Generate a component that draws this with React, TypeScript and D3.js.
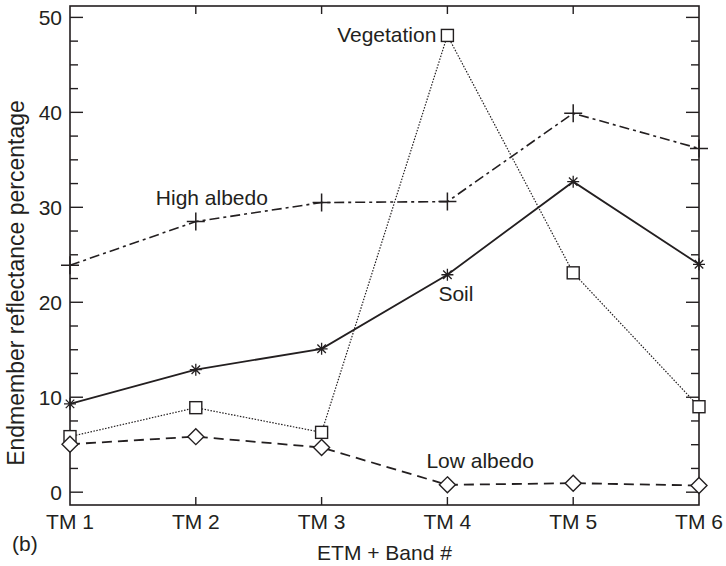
import * as d3 from "d3";

const bands = ["TM 1", "TM 2", "TM 3", "TM 4", "TM 5", "TM 6"];
const highAlbedo = [23.9, 28.5, 30.5, 30.6, 39.9, 36.2];
const soil = [9.3, 12.9, 15.1, 22.9, 32.7, 24.0];
const vegetation = [5.85, 8.9, 6.3, 48.1, 23.1, 9.0];
const lowAlbedo = [5.05, 5.85, 4.7, 0.77, 0.95, 0.7];
const yTicks = d3.range(0, 50.01, 2.5);

const W = 726;
const H = 566;
const left = 70;
const right = 699;
const top = 6;
const bottom = 505;
const ink = "#231f20";
const font = "'Liberation Sans', Arial, sans-serif";

const x = d3.scalePoint<string>().domain(bands).range([left, right]);
const y = d3.scaleLinear().domain([-1.35, 51.2]).range([bottom, top]);

const line = d3
  .line<number>()
  .x((_, i) => x(bands[i])!)
  .y((d) => y(d));

const Plus = ({ cx, cy }: { cx: number; cy: number }) => (
  <path d={`M${cx - 9},${cy}H${cx + 9}M${cx},${cy - 9}V${cy + 9}`} stroke={ink} strokeWidth={1.5} />
);

const Star = ({ cx, cy }: { cx: number; cy: number }) => {
  const r = 6;
  const d = r * Math.SQRT1_2;
  return (
    <path
      d={`M${cx - r},${cy}H${cx + r}M${cx},${cy - r}V${cy + r}M${cx - d},${cy - d}L${cx + d},${cy + d}M${cx - d},${cy + d}L${cx + d},${cy - d}`}
      stroke={ink}
      strokeWidth={1.3}
    />
  );
};

const Square = ({ cx, cy }: { cx: number; cy: number }) => (
  <rect x={cx - 6} y={cy - 6} width={12} height={12} fill="white" stroke={ink} strokeWidth={1.4} />
);

const Diamond = ({ cx, cy }: { cx: number; cy: number }) => (
  <path d={`M${cx},${cy - 8}L${cx + 8},${cy}L${cx},${cy + 8}L${cx - 8},${cy}Z`} fill="white" stroke={ink} strokeWidth={1.4} />
);

export default function App() {
  const px = (i: number) => x(bands[i])!;
  return (
    <svg
      width={W}
      height={H}
      style={{ position: "absolute", left: 0, top: 0, background: "white" }}
      fontFamily={font}
    >
      {/* frame */}
      <rect x={left} y={top} width={right - left} height={bottom - top} fill="none" stroke={ink} strokeWidth={1.6} />

      {/* y ticks, left and right */}
      {yTicks.map((t) => {
        const major = t % 10 === 0;
        const len = major ? 13 : 8;
        return (
          <g key={t}>
            <line x1={left} x2={left + len} y1={y(t)} y2={y(t)} stroke={ink} strokeWidth={1.4} />
            <line x1={right} x2={right - len} y1={y(t)} y2={y(t)} stroke={ink} strokeWidth={1.4} />
            {major && (
              <text x={62} y={y(t)} dy="0.36em" textAnchor="end" fontSize={21} fill={ink}>
                {t}
              </text>
            )}
          </g>
        );
      })}

      {/* x ticks, bottom and top */}
      {bands.map((b, i) => (
        <g key={b}>
          {i > 0 && i < bands.length - 1 && (
            <>
              <line x1={x(b)} x2={x(b)} y1={bottom} y2={bottom - 8} stroke={ink} strokeWidth={1.4} />
              <line x1={x(b)} x2={x(b)} y1={top} y2={top + 8} stroke={ink} strokeWidth={1.4} />
            </>
          )}
          <text x={x(b)} y={529} textAnchor="middle" fontSize={21} fill={ink}>
            {b}
          </text>
        </g>
      ))}

      {/* series */}
      <path d={line(vegetation)!} fill="none" stroke={ink} strokeWidth={1.2} strokeDasharray="1.5 1.5" />
      <path d={line(soil)!} fill="none" stroke={ink} strokeWidth={1.8} />
      <path d={line(highAlbedo)!} fill="none" stroke={ink} strokeWidth={1.6} strokeDasharray="10 4 3 4" />
      <path d={line(lowAlbedo)!} fill="none" stroke={ink} strokeWidth={1.8} strokeDasharray="10 6" />

      {vegetation.map((v, i) => <Square key={`v${i}`} cx={px(i)} cy={y(v)} />)}
      {soil.map((v, i) => <Star key={`s${i}`} cx={px(i)} cy={y(v)} />)}
      {highAlbedo.map((v, i) => <Plus key={`h${i}`} cx={px(i)} cy={y(v)} />)}
      {lowAlbedo.map((v, i) => <Diamond key={`l${i}`} cx={px(i)} cy={y(v)} />)}

      {/* annotations */}
      <text x={px(3) - 11} y={y(vegetation[3]) + 7} textAnchor="end" fontSize={21} fill={ink}>
        Vegetation
      </text>
      <text x={px(1) - 40} y={y(highAlbedo[1]) - 17} fontSize={21} fill={ink}>
        High albedo
      </text>
      <text x={px(3) - 9} y={y(soil[3]) + 26} fontSize={21} fill={ink}>
        Soil
      </text>
      <text x={px(3) - 21} y={y(lowAlbedo[3]) - 17} fontSize={21} fill={ink}>
        Low albedo
      </text>

      {/* axis titles */}
      <text x={(left + right) / 2} y={560} textAnchor="middle" fontSize={21} fill={ink}>
        ETM + Band #
      </text>
      <text x={12} y={551} fontSize={21} fill={ink}>
        (b)
      </text>
      <text
        transform={`translate(24,283) rotate(-90)`}
        textAnchor="middle"
        fontSize={23}
        fill={ink}
      >
        Endmember reflectance percentage
      </text>
    </svg>
  );
}
